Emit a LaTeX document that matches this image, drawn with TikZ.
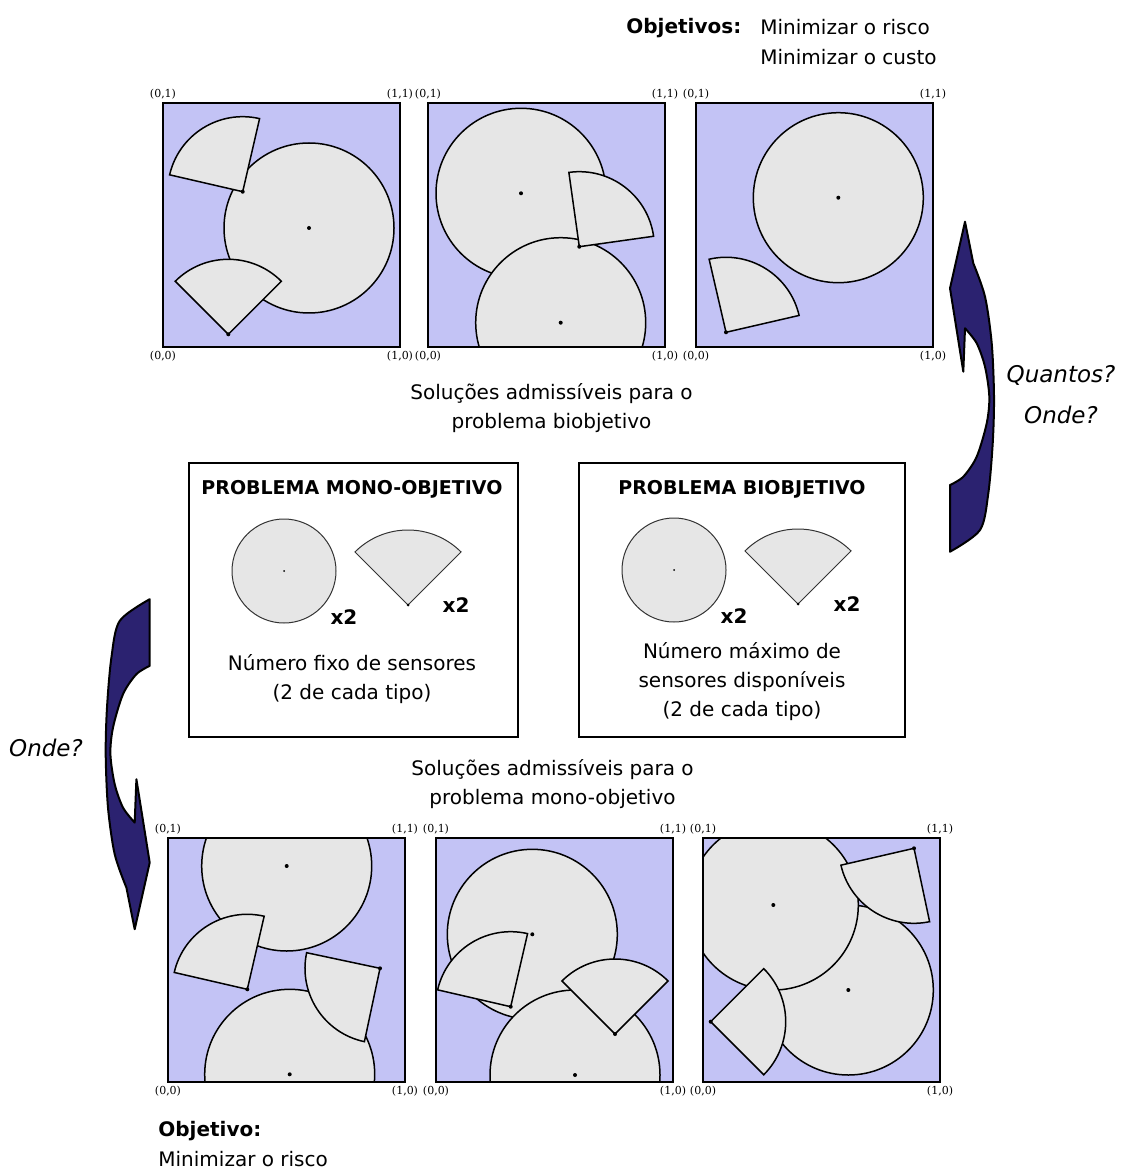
\documentclass[tikz,border=0pt]{standalone}
\usepackage{fontspec}
\setmainfont{DejaVu Sans}
\newfontfamily\cornerfont{DejaVu Serif}
\usepackage{tikz}
\usetikzlibrary{positioning}
\definecolor{PanelBlue}{HTML}{C3C3F5}
\definecolor{SensorGray}{HTML}{E6E6E6}
\definecolor{ArrowNavy}{HTML}{2B2270}

\tikzset{
  sensor/.style={draw=black, fill=SensorGray, line width=0.75pt},
  iconsensor/.style={draw=black!80, fill=SensorGray, line width=0.5pt},
  panelframe/.style={draw=black, line width=0.8pt},
  probbox/.style={draw=black, line width=1.3pt},
  bigarrow/.style={draw=black, fill=ArrowNavy, line width=1pt, line join=round},
  corner/.style={font=\cornerfont\fontsize{5.5}{6}\selectfont, inner sep=0pt},
  txt/.style={font=\fontsize{10}{14.5}\selectfont, inner sep=0pt, align=center},
  ttl/.style={font=\bfseries\fontsize{9.5}{12}\selectfont, inner sep=0pt},
  times/.style={font=\bfseries\fontsize{10}{12}\selectfont, inner sep=0pt},
  ask/.style={font=\itshape\fontsize{11.5}{20.5}\selectfont, inner sep=0pt, align=center}
}

% disk sensor (centre x, centre y) and fan sensor (apex x, apex y, from, to)
\newcommand{\sensordisk}[2]{%
  \draw[sensor] (#1,-#2) circle[radius=85];
  \fill (#1,-#2) circle[radius=2];}
\newcommand{\sensorfan}[4]{%
  \draw[sensor] (#1,-#2) -- ++(#3:75) arc[start angle=#3, end angle=#4, radius=75] -- cycle;
  \fill (#1,-#2) circle[radius=2];}

% curved block arrow, head up, centred at the origin
\newcommand{\curvedarrow}{%
  \draw[bigarrow] (-7,165) -- (1.3,123.4)
    -- plot[smooth] coordinates {(1.3,123.4) (13,90) (19.7,43.4) (22,-10) (20.7,-56.6) (16.3,-106.6) (8,-143.3) (-22,-165)}
    -- (-22,-98.3)
    -- plot[smooth] coordinates {(-22,-98.3) (-8.7,-90) (4.7,-70) (14.7,-36.6) (17.3,-10) (13,20) (4.7,43.4) (-7,58.4)}
    -- (-8.7,15) -- (-22,98.4) -- cycle;}

\begin{document}
\begin{tikzpicture}[x=0.5pt, y=0.5pt]
  \useasboundingbox (0,0) rectangle (1122,-1170);

  % top row: solutions of the biobjective problem
  \begin{scope}
    \clip (163,-103) rectangle ++(237,-244);
    \fill[PanelBlue] (163,-103) rectangle ++(237,-244);
    \sensordisk{309}{228}
    \sensorfan{242.7}{191.7}{77}{167}
    \sensorfan{228.3}{334.3}{45}{135}
  \end{scope}
  \begin{scope}
    \clip (428,-103) rectangle ++(237,-244);
    \fill[PanelBlue] (428,-103) rectangle ++(237,-244);
    \sensordisk{521}{193.3}
    \sensordisk{560.7}{322.7}
    \sensorfan{579.3}{246.7}{8}{98}
  \end{scope}
  \begin{scope}
    \clip (696,-103) rectangle ++(237,-244);
    \fill[PanelBlue] (696,-103) rectangle ++(237,-244);
    \sensordisk{838.3}{197.7}
    \sensorfan{726}{332.3}{13}{103}
  \end{scope}

  % bottom row: solutions of the mono-objective problem
  \begin{scope}
    \clip (168,-838) rectangle ++(237,-244);
    \fill[PanelBlue] (168,-838) rectangle ++(237,-244);
    \sensordisk{286.7}{866}
    \sensordisk{289.7}{1074.3}
    \sensorfan{247.3}{989.3}{77}{167}
    \sensorfan{380}{968.3}{168}{258}
  \end{scope}
  \begin{scope}
    \clip (436,-838) rectangle ++(237,-244);
    \fill[PanelBlue] (436,-838) rectangle ++(237,-244);
    \sensordisk{532.3}{934.3}
    \sensordisk{575}{1075}
    \sensorfan{510.7}{1006.7}{77}{167}
    \sensorfan{615}{1034}{45}{135}
  \end{scope}
  \begin{scope}
    \clip (703,-838) rectangle ++(237,-244);
    \fill[PanelBlue] (703,-838) rectangle ++(237,-244);
    \sensordisk{848.3}{990}
    \sensordisk{773.3}{905}
    \sensorfan{914}{848.3}{193}{282}
    \sensorfan{710.7}{1021.7}{-45}{45}
  \end{scope}

  \foreach \px/\py/\pname in {163/103/a, 428/103/b, 696/103/c, 168/838/d, 436/838/e, 703/838/f} {
    \draw[panelframe] (\px,-\py) rectangle ++(237,-244);
    \node[corner] (\pname tl) at (\px,-\py+9) {(0,1)};
    \node[corner] (\pname tr) at (\px+237,-\py+9) {(1,1)};
    \node[corner] (\pname bl) at (\px,-\py-253) {(0,0)};
    \node[corner] (\pname br) at (\px+237,-\py-253) {(1,0)};
  }

  % objectives
  \node[txt, anchor=base west] (objtop) at (626,-34) {\textbf{Objetivos:}};
  \node[txt, anchor=west, align=left, font=\fontsize{10}{15}\selectfont] (objtoplist) at (760,-42) {Minimizar o risco\\Minimizar o custo};
  \node[txt] (solbi) at (551.5,-408) {Soluções admissíveis para o\\problema biobjetivo};
  \node[txt] (solmono) at (552.5,-784) {Soluções admissíveis para o\\problema mono-objetivo};
  \node[txt, anchor=west, align=left, font=\fontsize{10}{15}\selectfont] (objbot) at (158,-1144) {\textbf{Objetivo:}\\Minimizar o risco};

  % the two problems
  \draw[probbox] (189,-463) rectangle (518,-737);
  \node[ttl] (monottl) at (352,-489) {PROBLEMA MONO-OBJETIVO};
  \draw[iconsensor] (284,-571) circle[radius=52];
  \fill (284,-571) circle[radius=1];
  \draw[iconsensor] (408,-605) -- ++(45:75) arc[start angle=45, end angle=135, radius=75] -- cycle;
  \fill (408,-605) circle[radius=1.5];
  \node[times] (monox1) at (344,-617) {x2};
  \node[times] (monox2) at (456,-605) {x2};
  \node[txt] (monotxt) at (352,-679) {Número fixo de sensores\\(2 de cada tipo)};

  \draw[probbox] (579,-463) rectangle (905,-737);
  \node[ttl] (bittl) at (742,-489) {PROBLEMA BIOBJETIVO};
  \draw[iconsensor] (674,-570) circle[radius=52];
  \fill (674,-570) circle[radius=1];
  \draw[iconsensor] (798,-604) -- ++(45:75) arc[start angle=45, end angle=135, radius=75] -- cycle;
  \fill (798,-604) circle[radius=1.5];
  \node[times] (bix1) at (734,-616) {x2};
  \node[times] (bix2) at (847,-604) {x2};
  \node[txt] (bitxt) at (742,-682) {Número máximo de\\sensores disponíveis\\(2 de cada tipo)};

  % curved arrows and questions
  \begin{scope}[shift={(972,-386.7)}]
    \curvedarrow
  \end{scope}
  \begin{scope}[shift={(127.7,-764.2)}, rotate=180]
    \curvedarrow
  \end{scope}
  \node[ask] (askright) at (1061,-395) {Quantos?\\Onde?};
  \node[ask] (askleft) at (46,-748) {Onde?};
\end{tikzpicture}
\end{document}
